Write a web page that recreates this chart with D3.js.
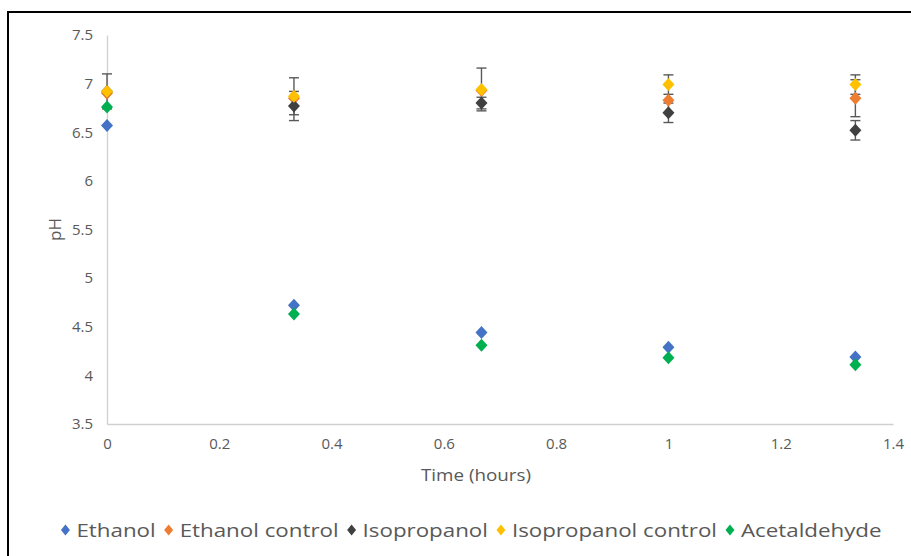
<!DOCTYPE html>
<html>
<head>
<meta charset="utf-8">
<script src="https://cdn.jsdelivr.net/npm/d3@7"></script>
<style>
  html, body { margin: 0; padding: 0; background: #fff; }
  svg { display: block; font-family: "Open Sans", Lato, sans-serif; }
</style>
</head>
<body>
<svg id="chart" width="911" height="556"></svg>
<script>
// Sampling times (hours)
const times = [0, 0.333, 0.667, 1, 1.333];

// pH readings per treatment
const ethanol            = [6.57, 4.72, 4.44, 4.29, 4.19];
const ethanolControl     = [6.90, 6.85, 6.93, 6.83, 6.85];
const isopropanol        = [6.92, 6.77, 6.80, 6.70, 6.52];
const isopropanolControl = [6.92, 6.87, 6.94, 6.99, 6.99];
const acetaldehyde       = [6.76, 4.63, 4.31, 4.18, 4.11];

// Error bar half-widths (0 = none)
const ethanolErr            = [0, 0, 0, 0, 0];
const ethanolControlErr     = [0, 0, 0, 0, 0.19];
const isopropanolErr        = [0.18, 0.15, 0.06, 0.10, 0.10];
const isopropanolControlErr = [0, 0.19, 0.22, 0.10, 0.10];
const acetaldehydeErr       = [0, 0, 0, 0, 0];

const seriesNames  = ["Ethanol", "Ethanol control", "Isopropanol", "Isopropanol control", "Acetaldehyde"];
const seriesColors = ["#4472C4", "#ED7D31", "#404040", "#FFC000", "#00B050"];
const seriesValues = [ethanol, ethanolControl, isopropanol, isopropanolControl, acetaldehyde];
const seriesErrors = [ethanolErr, ethanolControlErr, isopropanolErr, isopropanolControlErr, acetaldehydeErr];

const xTicks = [0, 0.2, 0.4, 0.6, 0.8, 1, 1.2, 1.4];
const yTicks = [3.5, 4, 4.5, 5, 5.5, 6, 6.5, 7, 7.5];

const svg = d3.select("#chart");
const textColor = "#595959";
const axisColor = "#d0d0d0";
const fontStack = "'Open Sans', Lato, sans-serif";

// Outer frame
svg.append("rect")
  .attr("x", 8).attr("y", 12).attr("width", 1000).attr("height", 1000)
  .attr("fill", "none").attr("stroke", "#000").attr("stroke-width", 2);

const plot = { left: 107, right: 893, top: 35, bottom: 424 };

const x = d3.scaleLinear().domain([0, 1.4]).range([plot.left, plot.right]);
const y = d3.scaleLinear().domain([3.5, 7.5]).range([plot.bottom, plot.top]);

// Axes
const xAxis = svg.append("g")
  .attr("transform", `translate(0,${plot.bottom})`)
  .call(d3.axisBottom(x).tickValues(xTicks).tickSize(0).tickPadding(14)
    .tickFormat(d3.format("")));
const yAxis = svg.append("g")
  .attr("transform", `translate(${plot.left},0)`)
  .call(d3.axisLeft(y).tickValues(yTicks).tickSize(0).tickPadding(14)
    .tickFormat(d3.format("")));

[xAxis, yAxis].forEach(g => {
  g.select(".domain").attr("stroke", axisColor).attr("stroke-width", 1.3);
  g.selectAll("text").attr("fill", textColor).style("font-size", "15px")
    .style("font-family", fontStack);
});

// Axis titles
svg.append("text")
  .attr("x", 476).attr("y", 481)
  .attr("text-anchor", "middle").attr("fill", textColor)
  .attr("textLength", 110).attr("lengthAdjust", "spacingAndGlyphs")
  .style("font-size", "17px").text("Time (hours)");
svg.append("text")
  .attr("transform", `translate(61,${(plot.top + plot.bottom) / 2}) rotate(-90)`)
  .attr("text-anchor", "middle").attr("fill", textColor)
  .style("font-size", "17px").text("pH");

// Squat diamond marker
const diamondPath = (hw, hh) => `M0,${-hh}L${hw},0L0,${hh}L${-hw},0Z`;

// Error bars, then markers drawn in series order
seriesValues.forEach((vals, si) => {
  const g = svg.append("g");
  vals.forEach((v, i) => {
    const e = seriesErrors[si][i];
    if (!e) return;
    const cx = x(times[i]);
    g.append("line").attr("x1", cx).attr("x2", cx)
      .attr("y1", y(v - e)).attr("y2", y(v + e))
      .attr("stroke", "#595959").attr("stroke-width", 1.4);
    [v - e, v + e].forEach(t => {
      g.append("line").attr("x1", cx - 5).attr("x2", cx + 5)
        .attr("y1", y(t)).attr("y2", y(t))
        .attr("stroke", "#595959").attr("stroke-width", 1.4);
    });
  });
});

seriesValues.forEach((vals, si) => {
  svg.append("g").selectAll("path")
    .data(vals)
    .join("path")
    .attr("d", diamondPath(6, 6.5))
    .attr("transform", (d, i) => `translate(${x(times[i])},${y(d)})`)
    .attr("fill", seriesColors[si]);
});

// Legend, centered below the plot; glyphs widened to fill the row
const legend = svg.append("g");
const legendY = 530;
const stretch = 1.24;
let cursor = 0;
const items = [];
seriesNames.forEach((name, i) => {
  const item = legend.append("g");
  item.append("path").attr("d", diamondPath(4.5, 5.5))
    .attr("transform", `translate(5,0)`).attr("fill", seriesColors[i]);
  const t = item.append("text").attr("x", 16).attr("y", 6.5)
    .attr("fill", textColor).style("font-size", "18px").text(name);
  const tw = t.node().getComputedTextLength() * stretch;
  t.attr("textLength", tw).attr("lengthAdjust", "spacingAndGlyphs");
  items.push({ item, x: cursor });
  cursor += 16 + tw + 8;
});
const totalW = cursor - 8;
const startX = 471 - totalW / 2;
items.forEach(d => d.item.attr("transform", `translate(${startX + d.x},${legendY})`));
</script>
</body>
</html>
